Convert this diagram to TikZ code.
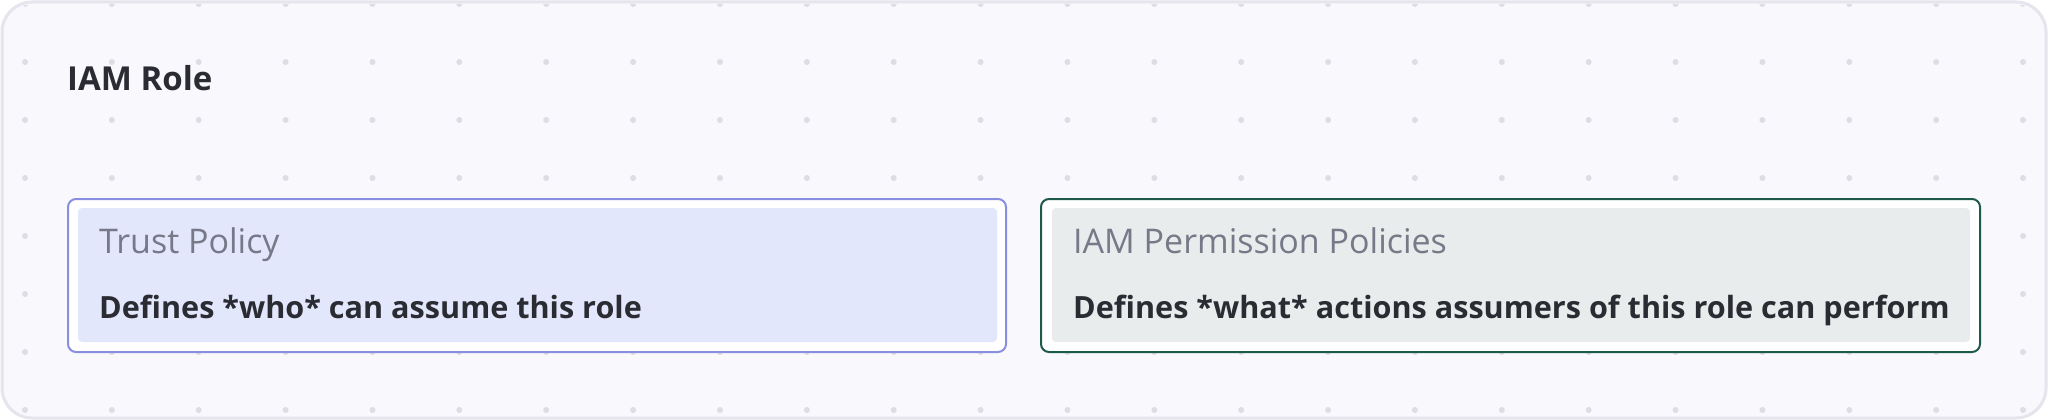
\documentclass[tikz,border=0pt]{standalone}
\usepackage{fontspec}
\setmainfont{Open Sans}
\definecolor{framefill}{HTML}{F9F8FC}
\definecolor{framedraw}{HTML}{E6E4EC}
\definecolor{dotc}{HTML}{DEDCE5}
\definecolor{titlec}{HTML}{2B2C33}
\definecolor{subc}{HTML}{777988}
\definecolor{bluedraw}{HTML}{8A8EE0}
\definecolor{bluefill}{HTML}{E3E7FB}
\definecolor{greendraw}{HTML}{1E5A4A}
\definecolor{greenfill}{HTML}{E8ECEC}
\tikzset{
  outerbox/.style={draw, line width=2pt, fill=white, rounded corners=8pt},
  innerbox/.style={rounded corners=4pt},
  headtext/.style={anchor=base west, inner sep=0pt, text=subc, font=\fontsize{34}{40}\selectfont},
  bodytext/.style={anchor=base west, inner sep=0pt, text=titlec, font=\fontsize{30.6}{36}\selectfont\bfseries},
}
\begin{document}
\begin{tikzpicture}[x=1pt,y=-1pt]
\useasboundingbox (0,0) rectangle (2048,420);
\fill[white] (0,0) rectangle (2048,420);
\path[fill=framefill, draw=framedraw, line width=3pt, rounded corners=30pt] (2,2) rectangle (2046,418);
\begin{scope}
\clip[rounded corners=30pt] (4,4) rectangle (2044,416);
\foreach \i in {0,...,23} {
  \foreach \j in {0,...,7} {
    \fill[dotc] (25+86.87*\i, 4+58*\j) circle (3pt);
  }
}
\end{scope}
\node[anchor=base west, inner sep=0pt, text=titlec, font=\fontsize{33}{38}\selectfont\bfseries] (role) at (67,91) {IAM Role};
% trust policy
\path[outerbox, draw=bluedraw] (68,199) rectangle (1006,352);
\path[innerbox, fill=bluefill] (78,208) rectangle (997,342);
\node[headtext] (trust) at (99,253) {Trust Policy};
\node[bodytext] (trustd) at (99,318) {Defines *who* can assume this role};
% permissions
\path[outerbox, draw=greendraw] (1041,199) rectangle (1980,352);
\path[innerbox, fill=greenfill] (1052,208) rectangle (1970,342);
\node[headtext] (perm) at (1073,253) {IAM Permission Policies};
\node[bodytext] (permd) at (1073,318) {Defines *what* actions assumers of this role can perform};
\end{tikzpicture}
\end{document}
